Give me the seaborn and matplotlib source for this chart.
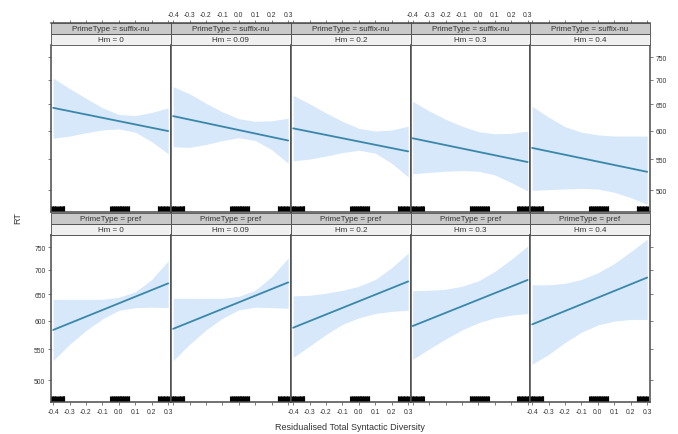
import numpy as np
import pandas as pd
import matplotlib
matplotlib.use("Agg")
import matplotlib.pyplot as plt
import seaborn as sns
from matplotlib.patches import Rectangle
from matplotlib.ticker import FixedLocator, FixedFormatter, NullLocator

# ---------------- data ----------------
prime_types = ["suffix-nu", "pref"]
hm_levels = ["0", "0.09", "0.2", "0.3", "0.4"]
x_grid = [-0.4, -0.3, -0.2, -0.1, 0.0, 0.1, 0.2, 0.3]
x_ends = [-0.4, 0.3]

# fitted line end points (RT at x=-0.4 and x=0.3), per Hm level
suffix_fit_start = [643, 627, 604, 586, 569]
suffix_fit_end = [599, 582, 563, 545, 529]
pref_fit_start = [583, 585, 587, 590, 593]
pref_fit_end = [672, 674, 676, 679, 684]

# confidence band, read at x_grid, per Hm level
suffix_upper = [
    [704, 682, 662, 643, 630, 628, 634, 643],
    [686, 671, 652, 635, 622, 617, 618, 623],
    [668, 651, 633, 617, 604, 599, 601, 608],
    [656, 637, 621, 608, 598, 594, 595, 599],
    [646, 625, 607, 597, 592, 590, 590, 590],
]
suffix_lower = [
    [586, 590, 596, 601, 603, 597, 580, 559],
    [571, 570, 575, 582, 587, 582, 566, 543],
    [547, 550, 555, 561, 565, 560, 543, 521],
    [526, 528, 530, 531, 530, 524, 512, 499],
    [500, 501, 502, 503, 502, 497, 489, 479],
]
pref_upper = [
    [640, 640, 640, 640, 644, 655, 680, 720],
    [642, 642, 642, 642, 646, 658, 686, 726],
    [647, 648, 652, 658, 666, 680, 705, 737],
    [657, 658, 660, 666, 677, 697, 723, 753],
    [669, 669, 672, 680, 694, 714, 740, 769],
]
pref_lower = [
    [531, 558, 582, 603, 619, 624, 625, 624],
    [531, 558, 583, 604, 620, 625, 624, 623],
    [536, 555, 575, 593, 605, 613, 617, 619],
    [533, 550, 567, 583, 596, 605, 610, 613],
    [525, 541, 561, 579, 592, 599, 602, 602],
]

# observed predictor values (rug)
rug_x = [-0.412, -0.407, -0.403, -0.399, -0.395, -0.391, -0.386, -0.381,
         -0.377, -0.372, -0.366, -0.361, -0.357, -0.352, -0.348, -0.343,
         -0.339, -0.335, -0.331,
         -0.052, -0.048, -0.044, -0.040, -0.036, -0.032, -0.028, -0.024,
         -0.020, -0.016, -0.012, -0.008, -0.004, 0.000, 0.004, 0.008,
         0.012, 0.016, 0.020, 0.024, 0.028, 0.032, 0.036, 0.040, 0.044,
         0.048, 0.052, 0.056, 0.060, 0.064,
         0.236, 0.240, 0.245, 0.249, 0.254, 0.259, 0.264, 0.268, 0.273,
         0.277, 0.282, 0.286, 0.291, 0.295, 0.300, 0.304]

y_ticks = [500, 550, 600, 650, 700, 750]
x_ticks = [-0.4, -0.3, -0.2, -0.1, 0.0, 0.1, 0.2, 0.3]
x_tick_labels = ["-0.4", "-0.3", "-0.2", "-0.1", "0.0", "0.1", "0.2", "0.3"]

# ---------------- tables ----------------
band_rows, fit_rows = [], []
for pt, up, lo, fs, fe in [("suffix-nu", suffix_upper, suffix_lower, suffix_fit_start, suffix_fit_end),
                           ("pref", pref_upper, pref_lower, pref_fit_start, pref_fit_end)]:
    for j, hm in enumerate(hm_levels):
        for k, xv in enumerate(x_grid):
            band_rows.append(dict(PrimeType=pt, Hm=hm, x=xv, lower=lo[j][k], upper=up[j][k]))
        fit_rows.append(dict(PrimeType=pt, Hm=hm, x=x_ends[0], RT=fs[j]))
        fit_rows.append(dict(PrimeType=pt, Hm=hm, x=x_ends[1], RT=fe[j]))
band_df = pd.DataFrame(band_rows)
fit_df = pd.DataFrame(fit_rows)

# ---------------- style ----------------
sns.set_style("white")
plt.rcParams['font.family'] = ['Liberation Sans', 'DejaVu Sans']

line_color = "#3a87aa"
band_color = "#d6e8fa"
frame_color = "#4a4a4a"
text_color = "#333333"

g = sns.FacetGrid(fit_df, row="PrimeType", col="Hm", row_order=prime_types,
                  col_order=hm_levels, sharex=True, sharey=True, despine=False,
                  height=2, aspect=1)
fig = g.figure
fig.set_size_inches(6.78, 4.35)
fig.set_dpi(100)

W, H = 678.0, 435.0
col_left = [51, 171, 291, 410.5, 530]
pw = 119.8
row_bottom = [213, 403]
ph = 167.5
strip_h = 10.7 / ph

for i, pt in enumerate(prime_types):
    for j, hm in enumerate(hm_levels):
        ax = g.axes[i, j]
        ax.set_position([col_left[j] / W, (H - row_bottom[i]) / H, pw / W, ph / H])
        sub_b = band_df[(band_df.PrimeType == pt) & (band_df.Hm == hm)]
        sub_f = fit_df[(fit_df.PrimeType == pt) & (fit_df.Hm == hm)]
        ax.fill_between(sub_b["x"], sub_b["lower"], sub_b["upper"],
                        color=band_color, linewidth=0, zorder=1)
        sns.lineplot(data=sub_f, x="x", y="RT", ax=ax, color=line_color,
                     linewidth=1.3, zorder=3)
        sns.rugplot(x=rug_x, ax=ax, height=0.034, color="black", linewidth=0.8,
                    expand_margins=False)
        ax.set_yscale("log")
        ax.set_xlim(-0.413, 0.316)
        ax.set_ylim(468, 780)
        ax.set_title("")
        ax.set_xlabel("")
        ax.set_ylabel("")
        for s in ax.spines.values():
            s.set_color(frame_color)
            s.set_linewidth(1.1)
        ax.set_facecolor("white")

        # strips
        ax.add_patch(Rectangle((0, 1.0), 1, strip_h, transform=ax.transAxes,
                               facecolor="#f0f0f0", edgecolor=frame_color,
                               linewidth=0.6, clip_on=False, zorder=5))
        ax.add_patch(Rectangle((0, 1.0 + strip_h), 1, strip_h, transform=ax.transAxes,
                               facecolor="#c9c9c9", edgecolor=frame_color,
                               linewidth=0.6, clip_on=False, zorder=5))
        ax.text(0.5, 1.0 + strip_h * 0.5, f"Hm = {hm}", transform=ax.transAxes,
                ha="center", va="center", fontsize=5.8, color=text_color, zorder=6)
        ax.text(0.5, 1.0 + strip_h * 1.5, f"PrimeType = {pt}", transform=ax.transAxes,
                ha="center", va="center", fontsize=5.8, color=text_color, zorder=6)

        # ticks
        ax.yaxis.set_major_locator(FixedLocator(y_ticks))
        ax.yaxis.set_major_formatter(FixedFormatter([str(v) for v in y_ticks]))
        ax.yaxis.set_minor_locator(NullLocator())
        ax.xaxis.set_major_locator(FixedLocator(x_ticks))
        ax.xaxis.set_major_formatter(FixedFormatter(x_tick_labels))
        ax.tick_params(axis="both", which="major", direction="out", length=2.5,
                       width=0.5, color=frame_color, labelsize=4.9,
                       labelcolor=text_color, pad=1.5)

        top_row = (i == 0)
        ax.tick_params(axis="x", top=top_row, bottom=not top_row,
                       labeltop=(top_row and j in (1, 3)),
                       labelbottom=((not top_row) and j in (0, 2, 4)))
        if top_row:
            # lattice puts the top axis above the strips
            ax.spines["top"].set_position(("axes", 1.0 + 2 * strip_h))
        ax.tick_params(axis="y", left=(j == 0), right=(j == 4),
                       labelleft=(j == 0 and not top_row),
                       labelright=(j == 4 and top_row))

fig.text(18 / W, (H - 218) / H, "RT", rotation=90, ha="center", va="center",
         fontsize=6.5, color=text_color)
fig.text(350 / W, (H - 428) / H, "Residualised Total Syntactic Diversity",
         ha="center", va="center", fontsize=6.5, color=text_color)

fig.savefig("out.png", dpi=100, facecolor="white")
